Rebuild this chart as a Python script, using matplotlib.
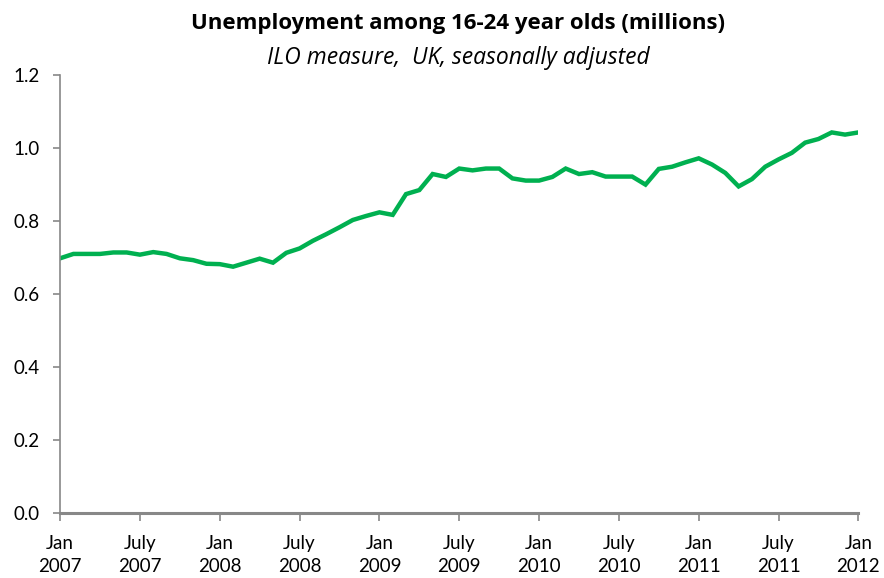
import matplotlib
matplotlib.use("Agg")
import matplotlib.pyplot as plt
import numpy as np

plt.rcParams['font.family'] = ['Lato', 'DejaVu Sans']

# Monthly youth unemployment, Jan 2007 - Jan 2012 (millions)
y2007 = [0.698, 0.710, 0.710, 0.710, 0.714, 0.714, 0.708, 0.715, 0.710, 0.698, 0.693, 0.683]
y2008 = [0.682, 0.675, 0.686, 0.697, 0.686, 0.713, 0.725, 0.746, 0.764, 0.783, 0.803, 0.814]
y2009 = [0.824, 0.817, 0.874, 0.885, 0.929, 0.921, 0.944, 0.939, 0.944, 0.944, 0.917, 0.911]
y2010 = [0.911, 0.921, 0.944, 0.929, 0.934, 0.922, 0.922, 0.922, 0.900, 0.943, 0.949, 0.961]
y2011 = [0.972, 0.955, 0.932, 0.895, 0.915, 0.949, 0.969, 0.987, 1.015, 1.025, 1.043, 1.037]
y2012 = [1.043]
values = y2007 + y2008 + y2009 + y2010 + y2011 + y2012

tick_labels = ['Jan\n2007', 'July\n2007', 'Jan\n2008', 'July\n2008', 'Jan\n2009', 'July\n2009',
               'Jan\n2010', 'July\n2010', 'Jan\n2011', 'July\n2011', 'Jan\n2012']
yticks = [0.0, 0.2, 0.4, 0.6, 0.8, 1.0, 1.2]

months = np.arange(len(values))

fig = plt.figure(figsize=(8.84, 5.78), dpi=100)
ax = fig.add_axes([0.068, 0.1125, 0.903, 0.7575])

ax.plot(months, values, color='#00b050', lw=3.2, solid_joinstyle='miter')

ax.set_xlim(0, len(values) - 1)
ax.set_ylim(0, 1.2)
ax.set_xticks(months[::6])
ax.set_xticklabels(tick_labels, fontsize=13.5, linespacing=1.45)
ax.set_yticks(yticks)
ax.set_yticklabels(['%.1f' % v for v in yticks], fontsize=13.5)

for s in ['top', 'right']:
    ax.spines[s].set_visible(False)
for s in ['left', 'bottom']:
    ax.spines[s].set_color('#888888')
ax.spines['bottom'].set_linewidth(2.2)
ax.spines['left'].set_linewidth(1.2)
ax.tick_params(axis='x', direction='out', length=6, width=1.2, color='#888888', pad=10)
ax.tick_params(axis='y', direction='out', length=5, width=1.2, color='#888888', pad=10)

# titles are centred over the plot area
fig.text(0.518, 0.949, 'Unemployment among 16-24 year olds (millions)', ha='center', va='baseline',
         fontsize=16, fontweight='bold', family='Open Sans')
fig.text(0.518, 0.890, 'ILO measure,  UK, seasonally adjusted', ha='center', va='baseline',
         fontsize=16.5, style='italic', family='Open Sans')

fig.savefig('out.png', dpi=100)
